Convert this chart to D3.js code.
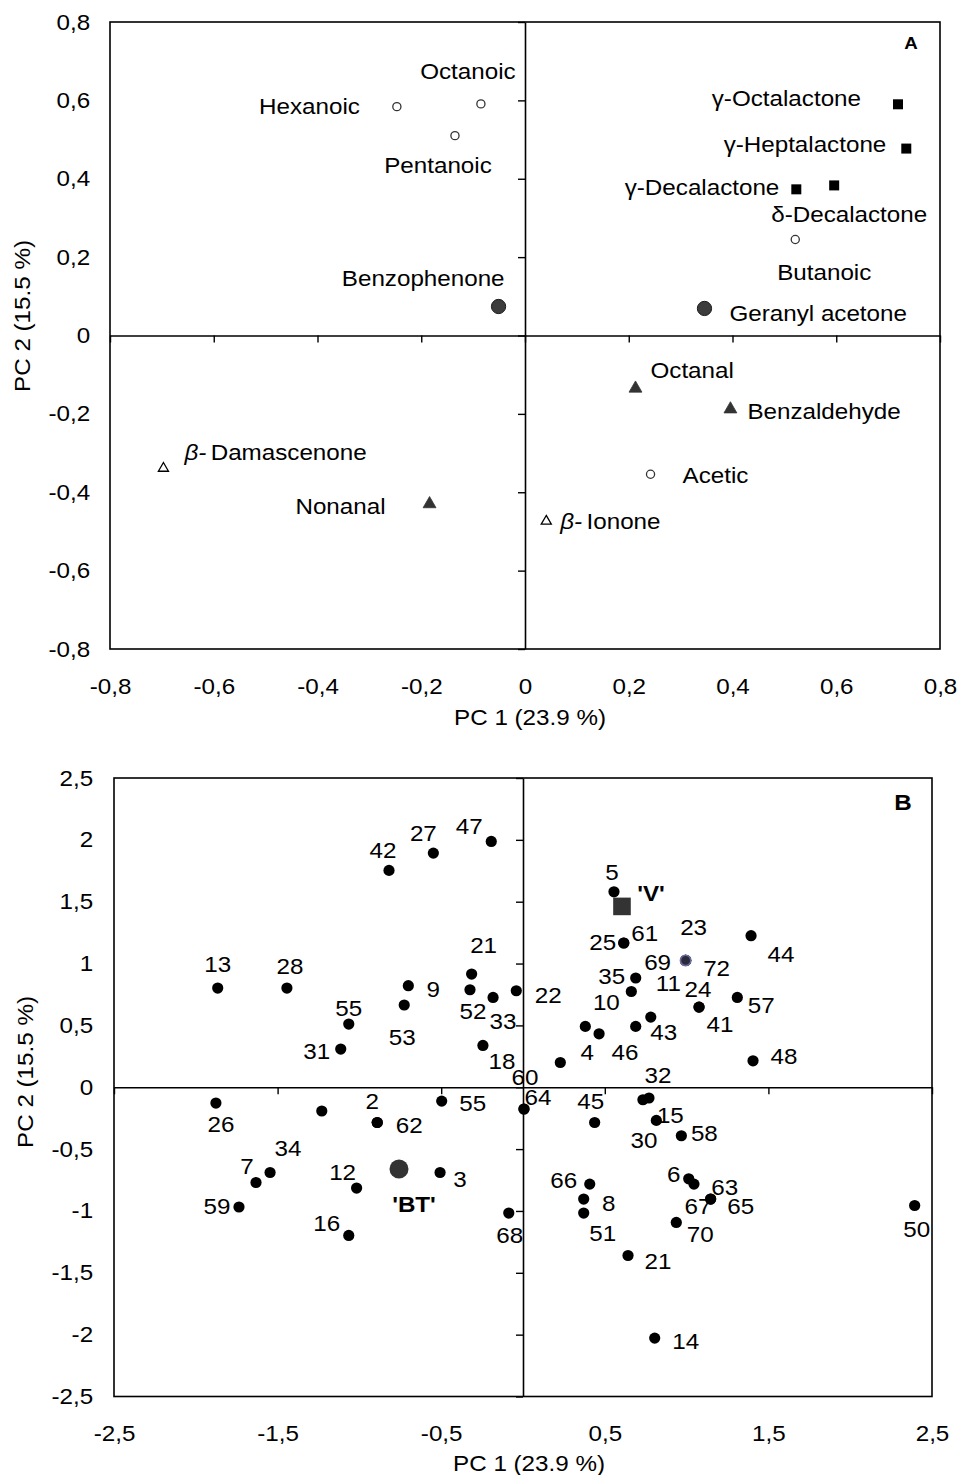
<!DOCTYPE html>
<html>
<head>
<meta charset="utf-8">
<script src="https://cdn.jsdelivr.net/npm/d3@7"></script>
<style>
  body { margin: 0; background: #fff; }
  svg { display: block; font-family: "Liberation Sans", Arial, sans-serif; }
</style>
</head>
<body>
<svg id="chart" width="958" height="1475"></svg>
<script>
// ---------- Panel A: loadings of the volatile compounds ----------
const compounds = ["Hexanoic", "Octanoic", "Pentanoic", "Benzophenone",
  "γ-Octalactone", "γ-Heptalactone", "γ-Decalactone", "δ-Decalactone",
  "Butanoic", "Geranyl acetone", "β-Damascenone", "Nonanal",
  "Octanal", "Benzaldehyde", "Acetic", "β-Ionone"];
const loadingPC1 = [-0.247, -0.085, -0.135, -0.051, 0.719, 0.735, 0.523, 0.596,
  0.521, 0.346, -0.697, -0.184, 0.213, 0.396, 0.242, 0.041];
const loadingPC2 = [0.584, 0.591, 0.510, 0.074, 0.590, 0.477, 0.373, 0.383,
  0.245, 0.069, -0.339, -0.430, -0.135, -0.188, -0.354, -0.474];
const compoundClass = ["acid", "acid", "acid", "ketone", "lactone", "lactone", "lactone", "lactone",
  "acid", "ketone", "norisoprenoid", "aldehyde", "aldehyde", "aldehyde", "acid", "norisoprenoid"];
const ticksA = [-0.8, -0.6, -0.4, -0.2, 0, 0.2, 0.4, 0.6, 0.8];

// ---------- Panel B: scores of the samples ----------
const sampleIds = ["13", "28", "42", "27", "47", "9", "53", "55", "31", "21", "52", "33", "22", "18",
  "60", "64", "4", "10", "46", "43", "", "24", "41", "11", "35", "23", "69", "72", "25", "61",
  "5", "44", "57", "48", "32", "30", "15", "45", "58", "6", "67", "63", "65", "66", "8", "51",
  "68", "70", "21", "14", "50", "26", "", "2", "62", "55", "34", "7", "59", "12", "16", "3"];
const scorePC1 = [-1.866, -1.443, -0.819, -0.548, -0.194, -0.701, -0.726, -1.065, -1.114, -0.314, -0.324, -0.183, -0.041, -0.245,
  0.006, 0.006, 0.228, 0.381, 0.465, 0.689, 0.781, 1.076, 1.076, 0.662, 0.689, 0.994, 0.994, 0.994, 0.616, 0.616,
  0.556, 1.394, 1.310, 1.406, 0.770, 0.733, 0.815, 0.438, 0.968, 1.013, 1.045, 1.147, 1.147, 0.408, 0.371, 0.371,
  -0.087, 0.937, 0.642, 0.805, 2.394, -1.877, -1.230, -0.891, -0.891, -0.497, -1.546, -1.632, -1.736, -1.017, -1.065, -0.507];
const scorePC2 = [0.802, 0.802, 1.753, 1.893, 1.987, 0.821, 0.665, 0.511, 0.309, 0.915, 0.788, 0.726, 0.780, 0.338,
  -0.176, -0.176, 0.200, 0.492, 0.432, 0.492, 0.567, 0.648, 0.648, 0.774, 0.883, 1.025, 1.025, 1.025, 1.166, 1.166,
  1.580, 1.225, 0.726, 0.214, -0.087, -0.101, -0.268, -0.285, -0.392, -0.740, -0.783, -0.904, -0.904, -0.783, -0.904, -1.017,
  -1.017, -1.093, -1.360, -2.028, -0.956, -0.128, -0.192, -0.285, -0.285, -0.112, -0.689, -0.770, -0.968, -0.815, -1.198, -0.689];
const cultivars = ["'V'", "'BT'"];
const cultivarPC1 = [0.605, -0.758];
const cultivarPC2 = [1.462, -0.661];
const ticksB = [-2.5, -2, -1.5, -1, -0.5, 0, 0.5, 1, 1.5, 2, 2.5];
const xLabelTicksB = [-2.5, -1.5, -0.5, 0.5, 1.5, 2.5];

// ---------- layout ----------
const svg = d3.select("#chart");
const FONT = 22, STRETCH = 1.1;
const fmt = d => String(d).replace(".", ",");

// label placement for panel A: [dx, dy, anchor] from the marker
const compoundLabelPos = [
  [-37, -1, "end"], [-13, -33, "middle"], [-17, 29, "middle"], [6, -28, "end"],
  [-37, -6, "end"], [-20, -4, "end"], [-17, -2, "end"], [15, 29, "middle"],
  [29, 33, "middle"], [25, 5, "start"], [21, -16, "start"], [-44, 2, "end"],
  [15, -18, "start"], [17, 2, "start"], [32, 1, "start"], [14, 0, "start"]];

// label placement for panel B: [dx, dy] (label centre from the dot)
const sampleLabelPos = [
  [0, -24], [3, -22], [-6, -20], [-10, -20], [-22, -15], [25, 3], [-2, 32], [0, -16], [-24, 2], [12, -29], [3, 21], [10, 24], [32, 4], [19, 16],
  [1, -32], [14, -12], [27, -10], [21, -24], [26, 18], [28, 6], null, [-1, -18], [21, 17], [37, -8], [-24, -2], [8, -33], [-28, 2], [31, 8], [-21, -1], [21, -10],
  [-2, -20], [30, 18], [24, 8], [31, -5], [9, -23], [1, 40], [14, -5], [-4, -21], [23, -3], [-15, -5], [4, 22], [14, -12], [30, 7], [-26, -4], [25, 4], [19, 20],
  [1, 22], [24, 12], [30, 6], [31, 3], [2, 24], [5, 21], null, [-5, -21], [32, 3], [31, 2], [18, -24], [-9, -16], [-22, -1], [-14, -16], [-22, -12], [20, 7]];
const cultivarLabelPos = [[29, -13], [15, 35]];

// text that is slightly widened horizontally
function label(g, x, y, txt, anchor, opts = {}) {
  const t = g.append("text")
    .attr("transform", `translate(${x},${y}) scale(${STRETCH},1)`)
    .attr("text-anchor", anchor || "middle")
    .attr("dy", "0.36em")
    .attr("font-size", opts.size || FONT)
    .attr("font-weight", opts.bold ? "bold" : null)
    .attr("fill", "#000");
  if (txt.startsWith("β-")) {
    t.append("tspan").attr("font-style", "italic").text("β-");
    t.append("tspan").attr("dx", 4).text(txt.slice(2));
  } else {
    t.text(txt);
  }
  return t;
}

function panel(cfg) {
  const g = svg.append("g");
  const x = d3.scaleLinear().domain(cfg.domain).range([cfg.left, cfg.right]);
  const y = d3.scaleLinear().domain(cfg.domain).range([cfg.bottom, cfg.top]);

  // frame
  g.append("rect")
    .attr("x", cfg.left).attr("y", cfg.top)
    .attr("width", cfg.right - cfg.left).attr("height", cfg.bottom - cfg.top)
    .attr("fill", "none").attr("stroke", "#000").attr("stroke-width", 1.6);

  // zero lines with tick marks
  const zx = g.append("g").attr("transform", `translate(0,${y(0)})`)
    .call(d3.axisBottom(x).tickValues(cfg.xTickMarks).tickSize(7).tickSizeOuter(0).tickFormat(""));
  const zy = g.append("g").attr("transform", `translate(${x(0)},0)`)
    .call(d3.axisLeft(y).tickValues(cfg.yTicks).tickSize(7).tickSizeOuter(0).tickFormat(""));
  [zx, zy].forEach(a => {
    a.select(".domain").attr("stroke-width", 1.6);
    a.selectAll(".tick line").attr("stroke-width", 1.4);
  });

  // tick labels along the frame
  const bx = g.append("g").attr("transform", `translate(0,${cfg.bottom})`)
    .call(d3.axisBottom(x).tickValues(cfg.xTickLabels).tickSize(0).tickPadding(cfg.xPad).tickFormat(fmt));
  const by = g.append("g").attr("transform", `translate(${cfg.left},0)`)
    .call(d3.axisLeft(y).tickValues(cfg.yTicks).tickSize(0).tickPadding(cfg.yPad).tickFormat(fmt));
  [bx, by].forEach(a => {
    a.select(".domain").remove();
    a.attr("font-size", FONT).attr("font-family", null);
    a.selectAll("text").attr("fill", "#000").attr("transform", `scale(${STRETCH},1)`);
  });

  // axis titles
  label(g, cfg.xTitle[0], cfg.xTitle[1], "PC 1 (23.9 %)", "middle");
  g.append("text")
    .attr("transform", `translate(${cfg.yTitle[0]},${cfg.yTitle[1]}) rotate(-90) scale(${STRETCH},1)`)
    .attr("text-anchor", "middle").attr("dy", "0.36em")
    .attr("font-size", FONT).attr("fill", "#000")
    .text("PC 2 (15.5 %)");

  // panel letter
  label(g, cfg.letterPos[0], cfg.letterPos[1], cfg.letter, "middle", { bold: true, size: cfg.letterSize });
  return { g, x, y };
}

// ---------- Panel A ----------
const A = panel({
  domain: [-0.8, 0.8], left: 110, right: 940, top: 22, bottom: 649,
  xTickMarks: ticksA, xTickLabels: ticksA, yTicks: ticksA,
  xPad: 29, yPad: 18, xTitle: [530, 717], yTitle: [22, 316],
  letter: "A", letterPos: [911, 43], letterSize: 17
});

const markerStyle = {
  acid:          { type: d3.symbolCircle,   size: 52,  fill: "#fff",    stroke: "#333", sw: 1.3 },
  ketone:        { type: d3.symbolCircle,   size: 160, fill: "#3c3c3c", stroke: "#1a1a1a", sw: 1 },
  lactone:       { type: d3.symbolSquare,   size: 100, fill: "#000",    stroke: "none", sw: 0 },
  aldehyde:      { type: d3.symbolTriangle, size: 72,  fill: "#333",    stroke: "#333", sw: 0.8 },
  norisoprenoid: { type: d3.symbolTriangle, size: 44,  fill: "#fff",    stroke: "#000", sw: 1.3 }
};

const loadings = compounds.map((name, i) => ({
  name, pc1: loadingPC1[i], pc2: loadingPC2[i], cls: compoundClass[i], pos: compoundLabelPos[i]
}));

A.g.append("g").selectAll("path").data(loadings).join("path")
  .attr("transform", d => `translate(${A.x(d.pc1)},${A.y(d.pc2)})`)
  .attr("d", d => d3.symbol().type(markerStyle[d.cls].type).size(markerStyle[d.cls].size)())
  .attr("fill", d => markerStyle[d.cls].fill)
  .attr("stroke", d => markerStyle[d.cls].stroke)
  .attr("stroke-width", d => markerStyle[d.cls].sw);

const labA = A.g.append("g");
loadings.forEach(d => {
  label(labA, A.x(d.pc1) + d.pos[0], A.y(d.pc2) + d.pos[1], d.name, d.pos[2]);
});

// ---------- Panel B ----------
const B = panel({
  domain: [-2.5, 2.5], left: 114, right: 932, top: 778, bottom: 1396.5,
  xTickMarks: xLabelTicksB, xTickLabels: xLabelTicksB, yTicks: ticksB,
  xPad: 29, yPad: 19, xTitle: [529, 1463], yTitle: [25, 1072],
  letter: "B", letterPos: [903, 802], letterSize: 22
});

const scores = sampleIds.map((id, i) => ({ id, pc1: scorePC1[i], pc2: scorePC2[i], pos: sampleLabelPos[i] }));

B.g.append("g").selectAll("circle").data(scores).join("circle")
  .attr("cx", d => B.x(d.pc1)).attr("cy", d => B.y(d.pc2))
  .attr("r", 5.6).attr("fill", "#000");

// overlapping samples 23 / 69 / 72 drawn with an outlined marker
const ringed = scores.find(d => d.id === "72");
B.g.append("circle")
  .attr("cx", B.x(ringed.pc1)).attr("cy", B.y(ringed.pc2))
  .attr("r", 5.2).attr("fill", "#2a2a3a").attr("stroke", "#6c6ca0").attr("stroke-width", 1.6);

const labB = B.g.append("g");
scores.filter(d => d.pos).forEach(d => {
  label(labB, B.x(d.pc1) + d.pos[0], B.y(d.pc2) + d.pos[1], d.id, "middle");
});

// reference cultivars
const cult = cultivars.map((name, i) => ({ name, pc1: cultivarPC1[i], pc2: cultivarPC2[i], pos: cultivarLabelPos[i] }));
B.g.append("path")
  .attr("transform", `translate(${B.x(cult[0].pc1)},${B.y(cult[0].pc2)})`)
  .attr("d", d3.symbol().type(d3.symbolSquare).size(310)())
  .attr("fill", "#333");
B.g.append("circle")
  .attr("cx", B.x(cult[1].pc1)).attr("cy", B.y(cult[1].pc2))
  .attr("r", 9.5).attr("fill", "#333");
cult.forEach(d => {
  label(labB, B.x(d.pc1) + d.pos[0], B.y(d.pc2) + d.pos[1], d.name, "middle", { bold: true });
});
</script>
</body>
</html>
